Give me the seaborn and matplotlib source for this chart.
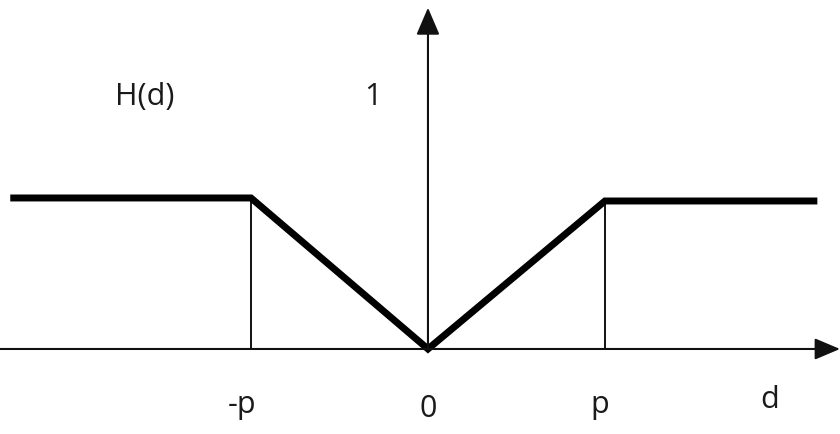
import matplotlib
matplotlib.use("Agg")
import matplotlib.pyplot as plt
import seaborn as sns
import pandas as pd

sns.set_theme(style="white")
plt.rcParams['font.family'] = ['Open Sans', 'DejaVu Sans']

# Data (units: p = 1, plateau height = 1)
d_vals = [-2.36, -1.0, 0.0, 1.0, 2.2]
h_vals = [1.0, 1.0, 0.0, 0.98, 0.98]
p_marks = [-1.0, 1.0]
p_heights = [1.0, 0.98]
tick_labels = ["-p", "0", "p", "d"]
tick_pos = [-1.05, 0.0, 0.97, 1.93]

df = pd.DataFrame({"d": d_vals, "H": h_vals})

fig = plt.figure(figsize=(8.4, 4.34), dpi=100)
ax = fig.add_axes([0, 0, 1, 1])
ax.set_xlim(-2.418, 2.328)
ax.set_ylim(-0.563, 2.311)

ink = "#111111"
# axes arrows
ax.annotate("", xy=(2.328, 0), xytext=(-2.418, 0),
            arrowprops=dict(arrowstyle="-|>,head_length=1.3,head_width=0.55",
                            color=ink, lw=1.5, shrinkA=0, shrinkB=0))
ax.annotate("", xy=(0, 2.26), xytext=(0, 0),
            arrowprops=dict(arrowstyle="-|>,head_length=1.4,head_width=0.6",
                            color=ink, lw=1.5, shrinkA=0, shrinkB=0))
# thin vertical lines at +-p
for x, h in zip(p_marks, p_heights):
    ax.plot([x, x], [0, h], color=ink, lw=1.4)

sns.lineplot(data=df, x="d", y="H", sort=False, color="black", lw=5.0, ax=ax,
             solid_joinstyle="miter", solid_capstyle="butt")
ax.axis("off")

txt_kw = dict(fontsize=22, color="#1a1a1a", ha="center", va="center")
ax.text(-1.6, 1.67, "H(d)", **txt_kw)
ax.text(-0.31, 1.67, "1", **txt_kw)
ax.text(tick_pos[0], -0.37, tick_labels[0], **txt_kw)
ax.text(tick_pos[1], -0.40, tick_labels[1], **txt_kw)
ax.text(tick_pos[2], -0.37, tick_labels[2], **txt_kw)
ax.text(tick_pos[3], -0.34, tick_labels[3], **txt_kw)

fig.savefig("out.png", dpi=100)
